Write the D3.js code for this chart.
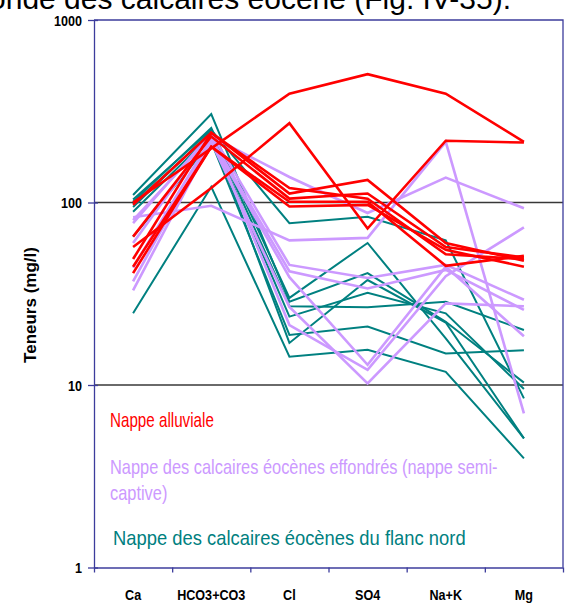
<!DOCTYPE html>
<html><head><meta charset="utf-8">
<script src="https://cdn.jsdelivr.net/npm/d3@7"></script>
<style>html,body{margin:0;padding:0;background:#fff;overflow:hidden}</style>
</head><body>
<svg id="c" width="566" height="613"></svg>
<script>
const categories = ["Ca","HCO3+CO3","Cl","SO4","Na+K","Mg"];
const yTicks = [1,10,100,1000];
// Nappe alluviale
const alluviale = [
  [100, 198, 395, 505, 395, 215],
  [57, 120, 272, 72, 218, 213],
  [97, 241, 112, 133, 60, 48],
  [65, 230, 105, 112, 57, 50],
  [49, 241, 120, 105, 52, 49],
  [44.5, 202, 101, 101, 45, 51],
  [41, 202, 95, 97, 55, 44.5]
];
// Nappe des calcaires éocènes effondrés
const effondres = [
  [80, 230, 138, 87.6, 137, 93],
  [83, 96, 62, 64, 215, 7],
  [77, 240, 45.5, 38.6, 45.5, 29.3],
  [44, 225, 42, 33.8, 42.7, 25.8],
  [37, 220, 39, 12.9, 44.5, 18.5],
  [33, 215, 26.8, 10.2, 28, 27],
  [60, 235, 21.3, 12.1, 39.5, 73]
];
// Nappe des calcaires éocènes du flanc nord
const flancNord = [
  [110, 305, 28.6, 41, 22.2, 10.3],
  [104, 250, 77, 83.6, 62, 8.45],
  [101, 256, 30, 60, 18, 5.1],
  [94.5, 245, 27, 26.7, 28.6, 20],
  [89, 235, 23.7, 32, 24.7, 9.5],
  [65, 215, 18.8, 20.9, 14.9, 15.5],
  [24.7, 122, 14.3, 15.6, 11.8, 3.96],
  [98, 240, 17, 37.6, 22, 5.1]
];
const legendLabels = ["Nappe alluviale","Nappe des calcaires éocènes effondrés (nappe semi-","captive)","Nappe des calcaires éocènes du flanc nord"];

const svg = d3.select("#c");
const L = 94, R = 563, T = 20, B = 567.5;
const axisColor = "#3c3c9c";
const x = d3.scaleBand().domain(categories).range([L, R]);
const xc = c => x(c) + x.bandwidth()/2;
const y = d3.scaleLog().domain([1,1000]).range([B, T]);

// title (cut off at top)
svg.append("text").attr("x", 511).attr("y", 9).attr("text-anchor","end")
  .attr("font-family","Liberation Sans, Arial, sans-serif").attr("font-size", 30)
  .text("profonde des calcaires éocène (Fig. IV-35).");

// gridlines at 10 and 100
svg.append("g").selectAll("line").data([10,100]).join("line")
  .attr("x1", L).attr("x2", R).attr("y1", d=>y(d)).attr("y2", d=>y(d))
  .attr("stroke","#383838").attr("stroke-width",1.6);

// plot border top & right
svg.append("path").attr("d", `M${L},${y(1000)}H${R}V${B}`).attr("fill","none")
  .attr("stroke", axisColor).attr("stroke-width",1.3);

// series lines
const line = d3.line().x((d,i)=>xc(categories[i])).y(d=>y(d));
function drawSeries(data, color, w){
  svg.append("g").selectAll("path").data(data).join("path")
    .attr("d", line).attr("fill","none").attr("stroke", color)
    .attr("stroke-width", w).attr("stroke-linejoin","miter");
}
drawSeries(flancNord, "#008080", 2);
drawSeries(effondres, "#CC99FF", 2.6);
drawSeries(alluviale, "#FF0000", 2.6);

// left axis
const yAxis = d3.axisLeft(y).tickValues(yTicks).tickFormat(d3.format("d")).tickSizeInner(6).tickSizeOuter(0);
const gy = svg.append("g").attr("transform", `translate(${L},0)`).call(yAxis);
gy.select(".domain").attr("stroke", axisColor).attr("stroke-width",1.3);
gy.selectAll(".tick line").attr("stroke", axisColor).attr("stroke-width",1.3).attr("x2",-6).attr("x1",4);
gy.selectAll(".tick text").attr("x",0).attr("dy",0)
  .attr("font-family","Liberation Sans, Arial, sans-serif").attr("font-size",15).attr("font-weight","bold").attr("fill","#000")
  .attr("text-anchor","end")
  .attr("transform","translate(-12,5) scale(0.84,1)");

// bottom axis: boundary ticks
const xb = d3.scaleLinear().domain([0, categories.length]).range([L, R]);
const xAxis = d3.axisBottom(xb).ticks(categories.length).tickFormat("").tickSizeInner(5).tickSizeOuter(0);
const gx = svg.append("g").attr("transform", `translate(0,${B})`).call(xAxis);
gx.select(".domain").attr("stroke", axisColor).attr("stroke-width",1.3);
gx.selectAll(".tick line").attr("stroke", axisColor).attr("stroke-width",1.3);
// category labels
svg.append("g").selectAll("text").data(categories).join("text")
  .attr("transform", d=>`translate(${xc(d)},600) scale(0.84,1)`)
  .attr("text-anchor","middle")
  .attr("font-family","Liberation Sans, Arial, sans-serif").attr("font-size",15).attr("font-weight","bold")
  .text(d=>d);

// y title
svg.append("text").attr("transform","translate(36,305) rotate(-90)")
  .attr("text-anchor","middle")
  .attr("font-family","Liberation Sans, Arial, sans-serif").attr("font-size",17).attr("font-weight","bold")
  .text("Teneurs (mg/l)");

// legend texts
const legColors = ["#FF0000","#CC99FF","#CC99FF","#008080"];
const legX = [110,110,110,113];
const legY = [427,474,500,545];
const legScale = [0.76,0.82,0.82,0.92];
svg.append("g").selectAll("text").data(legendLabels).join("text")
  .attr("transform",(d,i)=>`translate(${legX[i]},${legY[i]}) scale(${legScale[i]},1)`)
  .attr("font-family","Liberation Sans, Arial, sans-serif").attr("font-size",20)
  .attr("fill",(d,i)=>legColors[i]).text(d=>d);
</script>
</body></html>
